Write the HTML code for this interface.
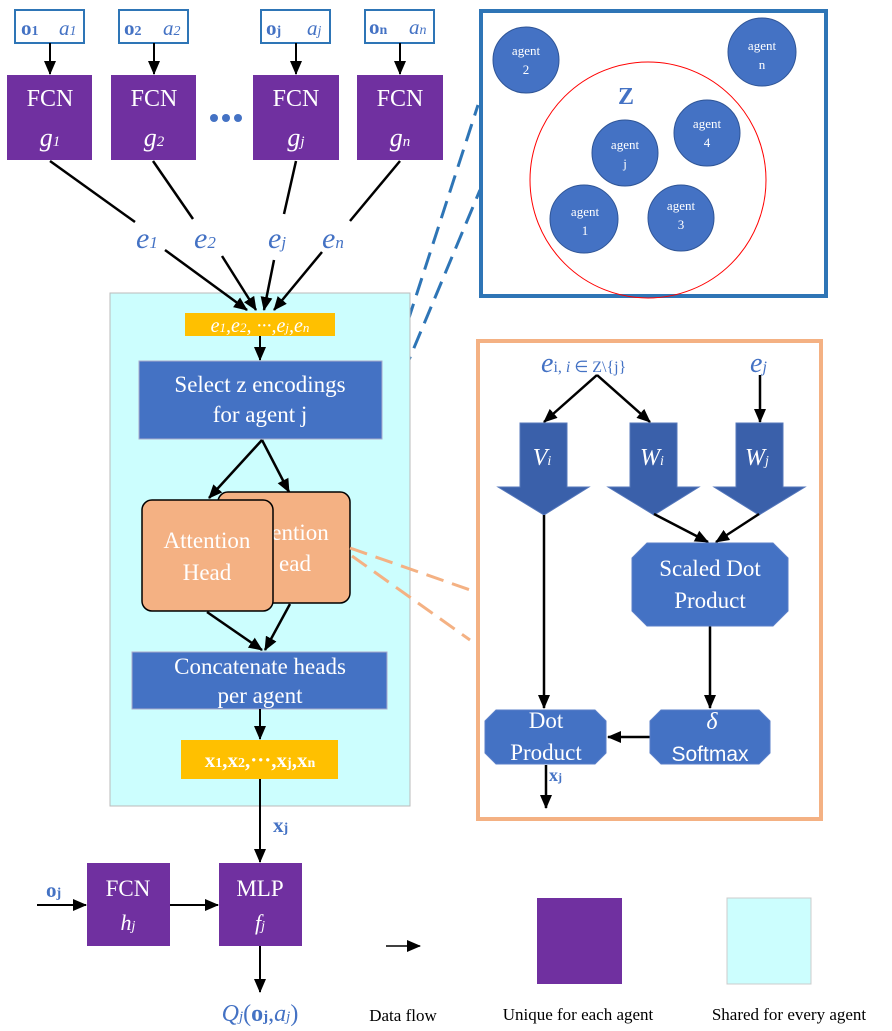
<!DOCTYPE html>
<html><head><meta charset="utf-8"><style>body{margin:0;background:#fff}svg{display:block}</style></head><body>
<svg width="892" height="1031" viewBox="0 0 892 1031" font-family="Liberation Serif, serif">
<defs>
<marker id="a" markerWidth="14" markerHeight="12" refX="13" refY="6" orient="auto" markerUnits="userSpaceOnUse"><path d="M0,0 L14,6 L0,12 z" fill="#000"/></marker>
</defs>
<g fill="#fff" stroke="#2e75b6" stroke-width="2">
<rect x="15" y="10" width="69" height="33"/><rect x="119" y="10" width="69" height="33"/><rect x="261" y="10" width="69" height="33"/><rect x="365" y="10" width="69" height="33"/>
</g>
<g fill="#4472c4" font-size="21">
<text x="21" y="35" font-weight="bold">o<tspan font-size="14">1</tspan></text><text x="59" y="35" font-style="italic">a<tspan font-size="14">1</tspan></text>
<text x="124" y="35" font-weight="bold">o<tspan font-size="14">2</tspan></text><text x="163" y="35" font-style="italic">a<tspan font-size="14">2</tspan></text>
<text x="266" y="35" font-weight="bold">o<tspan font-size="14">j</tspan></text><text x="307" y="35" font-style="italic">a<tspan font-size="14">j</tspan></text>
<text x="369" y="34" font-weight="bold">o<tspan font-size="14">n</tspan></text><text x="409" y="34" font-style="italic">a<tspan font-size="14">n</tspan></text>
</g>
<g stroke="#000" stroke-width="2" marker-end="url(#a)">
<line x1="50" y1="43" x2="50" y2="74"/><line x1="154" y1="43" x2="154" y2="74"/><line x1="296" y1="43" x2="296" y2="74"/><line x1="400" y1="43" x2="400" y2="74"/>
</g>
<g fill="#7030a0">
<rect x="7" y="75" width="85" height="85"/><rect x="111" y="75" width="85" height="85"/><rect x="253" y="75" width="86" height="85"/><rect x="357" y="75" width="86" height="85"/>
</g>
<g fill="#fff" font-size="24" text-anchor="middle">
<text x="50" y="106">FCN</text><text x="154" y="106">FCN</text><text x="296" y="106">FCN</text><text x="400" y="106">FCN</text>
<g font-style="italic" font-size="26"><text x="50" y="146">g<tspan font-size="15">1</tspan></text><text x="154" y="146">g<tspan font-size="15">2</tspan></text><text x="296" y="146">g<tspan font-size="15">j</tspan></text><text x="400" y="146">g<tspan font-size="15">n</tspan></text></g>
</g>
<g fill="#4472c4"><circle cx="214" cy="118" r="4"/><circle cx="226" cy="118" r="4"/><circle cx="238" cy="118" r="4"/></g>
<g stroke="#000" stroke-width="2.5">
<line x1="50" y1="161" x2="135" y2="222"/><line x1="153" y1="161" x2="193" y2="219"/><line x1="296" y1="161" x2="284" y2="214"/><line x1="400" y1="161" x2="350" y2="221"/>
</g>
<g fill="#4472c4" font-style="italic" font-size="30">
<text x="136" y="248">e<tspan font-size="17">1</tspan></text><text x="194" y="248">e<tspan font-size="17">2</tspan></text><text x="268" y="248">e<tspan font-size="17">j</tspan></text><text x="322" y="248">e<tspan font-size="17">n</tspan></text>
</g>
<g stroke="#2e75b6" stroke-width="3" stroke-dasharray="18,9" fill="none">
<line x1="383" y1="398" x2="478" y2="105"/><line x1="393" y1="398" x2="480" y2="190"/>
</g>
<rect x="110" y="293" width="300" height="513" fill="#ccfefe" stroke="#bbb" stroke-width="1"/>
<g stroke="#000" stroke-width="2.5" marker-end="url(#a)">
<line x1="165" y1="250" x2="247" y2="310"/><line x1="222" y1="256" x2="256" y2="310"/><line x1="274" y1="260" x2="264" y2="310"/><line x1="322" y1="252" x2="274" y2="310"/>
</g>
<rect x="185" y="313" width="150" height="23" fill="#ffc000"/>
<text x="260" y="332" fill="#fff" font-size="20" font-style="italic" text-anchor="middle">e<tspan font-size="13">1</tspan>,e<tspan font-size="13">2</tspan>, ···,e<tspan font-size="13">j</tspan>,e<tspan font-size="13">n</tspan></text>
<line x1="260" y1="336" x2="260" y2="360" stroke="#000" stroke-width="2" marker-end="url(#a)"/>
<rect x="139" y="361" width="243" height="78" fill="#4472c4" stroke="#aac" stroke-width="1"/>
<text x="260" y="392" fill="#fff" font-size="23" text-anchor="middle">Select z encodings</text>
<text x="260" y="422" fill="#fff" font-size="23" text-anchor="middle">for agent j</text>
<g stroke="#000" stroke-width="2.5" marker-end="url(#a)">
<line x1="262" y1="440" x2="209" y2="498"/><line x1="262" y1="440" x2="289" y2="492"/>
</g>
<rect x="218" y="492" width="132" height="111" rx="10" fill="#f4b183" stroke="#000" stroke-width="1.5"/>
<text x="300" y="540" fill="#fff" font-size="23" text-anchor="middle">ention</text>
<text x="295" y="571" fill="#fff" font-size="23" text-anchor="middle">ead</text>
<rect x="142" y="500" width="131" height="111" rx="10" fill="#f4b183" stroke="#000" stroke-width="1.5"/>
<text x="207" y="548" fill="#fff" font-size="23" text-anchor="middle">Attention</text>
<text x="207" y="580" fill="#fff" font-size="23" text-anchor="middle">Head</text>
<g stroke="#000" stroke-width="2.5" marker-end="url(#a)">
<line x1="207" y1="612" x2="262" y2="650"/><line x1="290" y1="604" x2="265" y2="650"/>
</g>
<g stroke="#f4b183" stroke-width="3" stroke-dasharray="18,9"><line x1="350" y1="548" x2="476" y2="592"/><line x1="352" y1="556" x2="470" y2="640"/></g>
<rect x="132" y="652" width="255" height="57" fill="#4472c4" stroke="#aac"/>
<text x="260" y="674" fill="#fff" font-size="23" text-anchor="middle">Concatenate heads</text>
<text x="260" y="703" fill="#fff" font-size="23" text-anchor="middle">per agent</text>
<line x1="260" y1="709" x2="260" y2="739" stroke="#000" stroke-width="2" marker-end="url(#a)"/>
<rect x="181" y="740" width="157" height="39" fill="#ffc000"/>
<text x="260" y="767" fill="#fff" font-size="21" font-weight="bold" text-anchor="middle">x<tspan font-size="14">1</tspan>,x<tspan font-size="14">2</tspan>,···,x<tspan font-size="14">j</tspan>,x<tspan font-size="14">n</tspan></text>
<line x1="260" y1="779" x2="260" y2="862" stroke="#000" stroke-width="2" marker-end="url(#a)"/>
<text x="273" y="832" fill="#4472c4" font-size="21" font-weight="bold">x<tspan font-size="14">j</tspan></text>
<text x="46" y="897" fill="#4472c4" font-size="21" font-weight="bold">o<tspan font-size="14">j</tspan></text>
<line x1="37" y1="905" x2="86" y2="905" stroke="#000" stroke-width="2" marker-end="url(#a)"/>
<rect x="87" y="863" width="83" height="83" fill="#7030a0"/>
<text x="128" y="896" fill="#fff" font-size="23" text-anchor="middle">FCN</text>
<text x="128" y="930" fill="#fff" font-size="22" font-style="italic" text-anchor="middle">h<tspan font-size="14">j</tspan></text>
<line x1="170" y1="905" x2="218" y2="905" stroke="#000" stroke-width="2" marker-end="url(#a)"/>
<rect x="219" y="863" width="83" height="83" fill="#7030a0"/>
<text x="260" y="896" fill="#fff" font-size="23" text-anchor="middle">MLP</text>
<text x="260" y="930" fill="#fff" font-size="22" font-style="italic" text-anchor="middle">f<tspan font-size="14">j</tspan></text>
<line x1="260" y1="946" x2="260" y2="992" stroke="#000" stroke-width="2" marker-end="url(#a)"/>
<text x="260" y="1021" fill="#4472c4" font-size="24" text-anchor="middle"><tspan font-style="italic">Q<tspan font-size="15">j</tspan></tspan>(<tspan font-weight="bold">o<tspan font-size="15">j</tspan></tspan>,<tspan font-style="italic">a<tspan font-size="15">j</tspan></tspan>)</text>
<line x1="386" y1="946" x2="420" y2="946" stroke="#000" stroke-width="1.5" marker-end="url(#a)"/>
<rect x="537" y="898" width="85" height="86" fill="#7030a0"/>
<rect x="727" y="898" width="84" height="86" fill="#ccfefe" stroke="#ccc"/>
<g font-size="17" text-anchor="middle" fill="#000">
<text x="403" y="1021">Data flow</text><text x="578" y="1020">Unique for each agent</text><text x="789" y="1020">Shared for every agent</text>
</g>
<rect x="481" y="11" width="345" height="285" fill="#fff" stroke="#2e75b6" stroke-width="4"/>
<circle cx="648" cy="180" r="118" fill="none" stroke="#f00" stroke-width="1"/>
<g fill="#4472c4" stroke="#2f5597" stroke-width="1">
<circle cx="526" cy="60" r="33"/><circle cx="762" cy="52" r="34"/><circle cx="625" cy="153" r="33"/><circle cx="707" cy="133" r="33"/><circle cx="584" cy="219" r="34"/><circle cx="681" cy="218" r="33"/>
</g>
<text x="626" y="104" fill="#4472c4" font-size="24" font-weight="bold" text-anchor="middle">Z</text>
<g fill="#fff" font-size="13" text-anchor="middle">
<text x="526" y="55">agent</text><text x="526" y="74">2</text>
<text x="762" y="50">agent</text><text x="762" y="69">n</text>
<text x="625" y="149">agent</text><text x="625" y="168">j</text>
<text x="707" y="128">agent</text><text x="707" y="147">4</text>
<text x="585" y="216">agent</text><text x="585" y="235">1</text>
<text x="681" y="210">agent</text><text x="681" y="229">3</text>
</g>
<rect x="478" y="341" width="343" height="478" fill="#fff" stroke="#f4b183" stroke-width="4"/>
<text x="541" y="372" fill="#4472c4" font-size="28" font-style="italic">e<tspan font-size="16" font-style="normal">i, <tspan font-style="italic">i</tspan> ∈ Z\{j}</tspan></text>
<text x="750" y="372" fill="#4472c4" font-size="28" font-style="italic">e<tspan font-size="16">j</tspan></text>
<g stroke="#000" stroke-width="2.5" marker-end="url(#a)">
<line x1="597" y1="375" x2="544" y2="422"/><line x1="597" y1="375" x2="650" y2="422"/><line x1="760" y1="375" x2="760" y2="422"/>
</g>
<g fill="#3a60aa" stroke="#5577bb" stroke-width="1">
<path d="M520,423 H567 V487 H589 L544,515 L498,487 H520 Z"/>
<path d="M630,423 H677 V487 H699 L654,515 L608,487 H630 Z"/>
<path d="M736,423 H783 V487 H805 L759,515 L714,487 H736 Z"/>
</g>
<g fill="#fff" font-size="24" font-style="italic" text-anchor="middle">
<text x="542" y="465">V<tspan font-size="14">i</tspan></text><text x="652" y="465">W<tspan font-size="14">i</tspan></text><text x="757" y="465">W<tspan font-size="14">j</tspan></text>
</g>
<g stroke="#000" stroke-width="2.5" marker-end="url(#a)">
<line x1="654" y1="514" x2="708" y2="542"/><line x1="759" y1="514" x2="716" y2="542"/>
<line x1="544" y1="515" x2="544" y2="708"/><line x1="710" y1="626" x2="710" y2="708"/>
<line x1="650" y1="737" x2="608" y2="737"/><line x1="546" y1="765" x2="546" y2="808"/>
</g>
<g fill="#4472c4" stroke="#5a7fc8">
<path d="M647,543 H773 L788,558 V611 L773,626 H647 L632,611 V558 Z"/>
<path d="M496,710 H595 L606,721 V753 L595,764 H496 L485,753 V721 Z"/>
<path d="M661,710 H759 L770,721 V753 L759,764 H661 L650,753 V721 Z"/>
</g>
<g fill="#fff" font-size="23" text-anchor="middle">
<text x="710" y="576">Scaled Dot</text><text x="710" y="608">Product</text>
<text x="546" y="728">Dot</text><text x="546" y="760">Product</text>
<text x="712" y="729" font-size="24" font-style="italic">δ</text><text x="710" y="761" font-family="Liberation Sans, sans-serif" font-size="21">Softmax</text>
</g>
<text x="549" y="781" fill="#4472c4" font-size="18" font-weight="bold">x<tspan font-size="12">j</tspan></text>
</svg>
</body></html>
